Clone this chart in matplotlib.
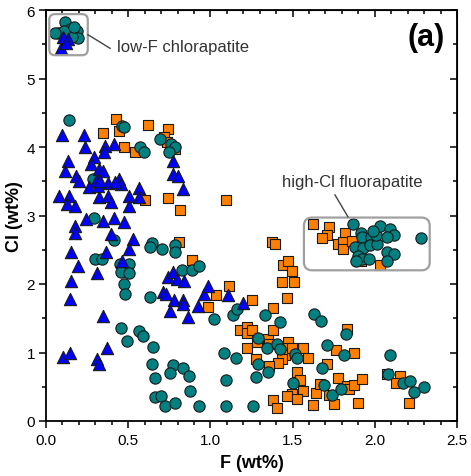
import numpy as np
import matplotlib
matplotlib.use('Agg')
import matplotlib.pyplot as plt
from matplotlib.patches import FancyBboxPatch
from matplotlib.ticker import MultipleLocator

plt.rcParams['font.family'] = ['Liberation Sans', 'DejaVu Sans']

# F / Cl (wt%)
# blue triangles
tri_f = [0.089, 0.105, 0.136, 0.12,
         0.095, 0.233, 0.237, 0.415, 0.36, 0.355, 0.294, 0.274, 0.136, 0.116, 0.182, 0.203,
         0.324, 0.345, 0.304, 0.264, 0.314, 0.375, 0.446, 0.456, 0.081, 0.138, 0.126, 0.176,
         0.324, 0.375, 0.395, 0.507, 0.564, 0.568, 0.503, 0.243, 0.345, 0.415, 0.476, 0.176,
         0.176, 0.395, 0.531, 0.503, 0.152, 0.365, 0.77, 0.77, 0.805, 0.831, 0.33, 0.42,
         0.197, 0.312, 0.152, 0.462, 0.146, 0.345, 0.373, 0.101, 0.146, 0.312, 0.324, 0.744,
         0.775, 0.795, 0.841, 0.714, 0.73, 0.78, 0.835, 0.835, 0.754, 0.866, 0.923, 0.963,
         0.988, 1.105, 1.196]
tri_cl = [5.45, 5.60, 5.58, 5.52,
          4.18, 4.18, 4.00, 4.04, 4.02, 3.92, 3.86, 3.75, 3.80, 3.65, 3.58, 3.51,
          3.68, 3.65, 3.51, 3.41, 3.43, 3.48, 3.53, 3.46, 3.29, 3.29, 3.17, 3.14,
          3.27, 3.29, 3.19, 3.29, 3.40, 3.27, 3.14, 2.95, 2.92, 2.97, 2.90, 2.85,
          2.75, 2.73, 2.66, 2.51, 2.47, 2.46, 3.80, 3.61, 3.58, 3.38, 3.50, 3.49,
          2.26, 2.16, 2.04, 2.34, 1.78, 1.54, 1.06, 0.94, 0.99, 0.90, 0.83, 2.10,
          2.17, 2.07, 2.05, 1.88, 1.85, 1.77, 1.77, 1.71, 1.60, 1.52, 1.68, 1.85,
          1.97, 1.84, 1.72]

# teal circles
cir_f = [0.116, 0.075, 0.146, 0.142, 0.19, 0.193, 0.156, 0.109, 0.055, 0.17,
         0.142, 0.462, 0.475, 0.574, 0.594, 0.695, 0.76, 0.787, 0.746, 0.284, 0.294, 0.415,
         0.645, 0.633, 0.704, 0.785, 0.785, 0.30, 0.341, 0.45, 0.507, 0.456, 0.507, 0.476,
         0.482, 0.635, 0.825, 0.886, 0.933,
         0.456, 0.493, 0.564, 0.588, 0.653, 0.645, 0.665, 0.774, 0.754, 0.835, 0.868, 0.665,
         0.70, 0.724, 0.785, 0.878, 0.933, 1.095, 1.257, 1.024, 1.135, 1.16, 1.332, 1.423,
         1.632, 1.673, 1.291, 1.342, 1.403, 1.423, 1.515, 1.525, 1.085, 1.154, 1.291, 1.352,
         1.277, 1.095, 1.504, 1.681, 1.693, 1.742, 1.794, 1.707, 1.823, 1.813, 2.092, 2.082,
         2.174, 2.214, 2.24, 2.299,
         1.869, 1.916, 1.92, 1.88, 1.926, 1.90, 1.92, 1.965, 1.886, 1.975, 1.971, 2.015,
         2.007, 2.032, 2.092, 2.119, 2.072, 2.076, 2.117, 2.072, 2.281, 1.991]
cir_cl = [5.83, 5.67, 5.72, 5.67, 5.69, 5.59, 5.60, 5.70, 5.67, 5.75,
          4.39, 4.30, 4.29, 4.00, 3.92, 4.12, 4.04, 4.00, 3.92, 3.53, 2.97, 2.64,
          2.60, 2.54, 2.51, 2.57, 2.46, 2.37, 2.36, 2.29, 2.29, 2.18, 2.16, 2.00,
          1.85, 1.81, 2.21, 2.21, 2.27,
          1.36, 1.17, 1.31, 1.24, 1.08, 0.83, 0.63, 0.82, 0.70, 0.77, 0.66, 0.35,
          0.37, 0.22, 0.27, 0.44, 0.22, 0.22, 0.22, 1.49, 1.55, 1.64, 1.55, 1.45,
          1.56, 1.46, 1.21, 1.07, 1.12, 1.05, 0.98, 0.92, 0.99, 0.92, 0.83, 0.71,
          0.64, 0.60, 0.56, 0.77, 0.53, 0.38, 0.47, 1.11, 1.27, 0.96, 0.96, 0.68,
          0.55, 0.58, 0.43, 0.50,
          2.87, 2.75, 2.68, 2.54, 2.53, 2.41, 2.36, 2.36, 2.34, 2.68, 2.57, 2.59,
          2.72, 2.85, 2.80, 2.71, 2.68, 2.46, 2.44, 2.34, 2.67, 2.78]

# orange squares
sq_f = [0.426, 0.442, 0.345, 0.622, 0.744, 0.715, 0.735, 0.474, 0.541, 0.787, 0.604, 0.744,
        0.813, 0.807, 1.095, 0.886,
        1.373, 1.393, 1.443, 1.474, 1.494, 1.434, 1.51, 1.464, 1.115, 1.034, 0.983, 1.255,
        1.383, 1.18, 1.224, 1.224, 1.255, 1.224, 1.281, 1.348, 1.383, 1.358, 1.474, 1.45,
        1.454, 1.434, 1.413, 1.498, 1.565, 1.596, 1.276, 1.358, 1.525, 1.545, 1.565, 1.494,
        1.468, 1.525, 1.642, 1.622, 1.383, 1.403, 1.667, 1.707, 1.833, 1.764, 1.873, 1.774,
        1.829, 1.843, 1.873, 1.924, 1.754, 1.90, 2.076, 2.153, 2.127, 2.21, 1.721,
        1.622, 1.721, 1.711, 1.681, 1.819, 1.774, 1.808, 1.805, 1.859, 2.032, 1.914]
sq_cl = [4.41, 4.23, 4.21, 4.32, 4.27, 4.14, 4.08, 4.00, 3.93, 3.97, 3.23, 3.26,
         3.08, 2.62, 3.22, 2.35,
         2.62, 2.58, 2.28, 2.33, 2.19, 2.03, 2.03, 1.80, 1.97, 1.84, 1.67, 1.76,
         1.65, 1.33, 1.37, 1.28, 1.33, 1.06, 1.16, 1.20, 1.33, 1.12, 1.16, 1.06,
         0.96, 0.90, 0.85, 1.07, 1.06, 0.92, 0.90, 0.80, 0.72, 0.60, 0.44, 0.39,
         0.37, 0.32, 0.41, 0.24, 0.30, 0.19, 0.54, 0.83, 1.35, 1.04, 0.99, 0.63,
         0.51, 0.47, 0.53, 0.62, 0.25, 0.26, 0.69, 0.66, 0.55, 0.26, 0.38,
         2.87, 2.83, 2.72, 2.67, 2.74, 2.59, 2.62, 2.51, 2.63, 2.28, 2.33]

fig = plt.figure(figsize=(4.71, 4.77), dpi=100)
ax = fig.add_axes([46 / 471, 55 / 477, 411 / 471, 411 / 477])

ec = '#1a1a1a'
ax.scatter(sq_f, sq_cl, s=52, marker='s', c='#ff8000', edgecolors=ec, linewidths=0.8, zorder=3)
ax.scatter(cir_f, cir_cl, s=66, marker='o', c='#008080', edgecolors=ec, linewidths=0.8, zorder=4)
ax.scatter(tri_f, tri_cl, s=78, marker='^', c='#0000ff', edgecolors=ec, linewidths=0.8, zorder=5)

ax.set_xlim(0, 2.5)
ax.set_ylim(0, 6)
ax.xaxis.set_major_locator(MultipleLocator(0.5))
ax.xaxis.set_minor_locator(MultipleLocator(0.1))
ax.yaxis.set_major_locator(MultipleLocator(1))
ax.yaxis.set_minor_locator(MultipleLocator(0.5))
ax.xaxis.set_major_formatter(plt.FormatStrFormatter('%.1f'))

for s in ax.spines.values():
    s.set_linewidth(1.3)
ax.tick_params(which='both', direction='out', width=1.1, labelsize=11, colors='black')
ax.tick_params(which='major', length=5)
ax.tick_params(which='minor', length=3)
ax.tick_params(axis='x', pad=4)
ax.tick_params(axis='y', pad=3)
# mirrored ticks on top/right point inwards
ax2 = ax.secondary_xaxis('top')
ax2.xaxis.set_major_locator(MultipleLocator(0.5))
ax2.xaxis.set_minor_locator(MultipleLocator(0.1))
ax2.tick_params(which='both', direction='in', width=1.1, labeltop=False)
ax2.tick_params(which='major', length=5)
ax2.tick_params(which='minor', length=3)
ax3 = ax.secondary_yaxis('right')
ax3.yaxis.set_major_locator(MultipleLocator(1))
ax3.yaxis.set_minor_locator(MultipleLocator(0.5))
ax3.tick_params(which='both', direction='in', width=1.1, labelright=False)
ax3.tick_params(which='major', length=5)
ax3.tick_params(which='minor', length=3)

ax.set_xlabel('F (wt%)', fontsize=13, fontweight='bold')
ax.set_ylabel('Cl (wt%)', fontsize=13, fontweight='bold')
ax.xaxis.set_label_coords(0.5, -0.08)
ax.yaxis.set_label_coords(-0.055, 0.5)

# rounded boxes round the two groups
asp = 164.4 / 68.5
box1 = FancyBboxPatch((0.02, 5.34), 0.234, 0.60, boxstyle='round,pad=0,rounding_size=0.035',
                      mutation_aspect=asp, fc='none', ec='#a0a0a0', lw=1.6, zorder=6)
box2 = FancyBboxPatch((1.569, 2.20), 0.765, 0.77, boxstyle='round,pad=0,rounding_size=0.05',
                      mutation_aspect=asp, fc='none', ec='#a0a0a0', lw=1.6, zorder=6)
ax.add_patch(box1)
ax.add_patch(box2)

ax.plot([0.255, 0.39], [5.64, 5.44], color='#444444', lw=1.0, zorder=6)
ax.text(0.43, 5.46, 'low-F chlorapatite', fontsize=12, color='#333333', va='center', ha='left')
ax.plot([1.758, 1.837], [3.30, 2.98], color='#444444', lw=1.0, zorder=6)
ax.text(1.436, 3.50, 'high-Cl fluorapatite', fontsize=12, color='#333333', va='center', ha='left')

ax.text(0.97, 0.935, '(a)', transform=ax.transAxes, fontsize=22, fontweight='bold',
        ha='right', va='center')

plt.savefig('out.png', dpi=100)
